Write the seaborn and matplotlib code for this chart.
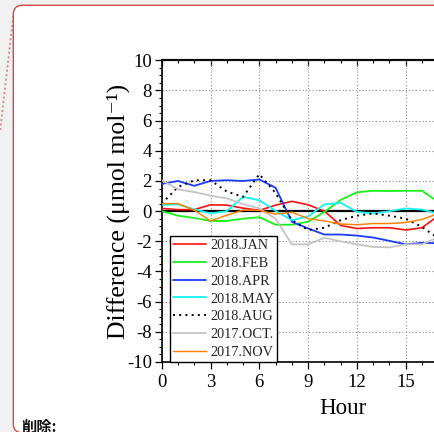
import matplotlib
matplotlib.use("Agg")
import matplotlib.pyplot as plt
import seaborn as sns
import pandas as pd
import numpy as np
from matplotlib.patches import FancyBboxPatch
from matplotlib.ticker import MultipleLocator, NullFormatter
from matplotlib.lines import Line2D

hours = list(range(0, 18))
jan = [0.18, 0.10, 0.10, 0.42, 0.40, 0.20, 0.05, 0.40, 0.65, 0.42, 0.00, -0.95, -1.15, -1.10, -1.10, -1.25, -1.10, -0.30]
feb = [0.00, -0.30, -0.45, -0.65, -0.65, -0.50, -0.40, -0.90, -0.90, -0.70, -0.05, 0.75, 1.25, 1.35, 1.33, 1.35, 1.35, 0.60]
apr = [1.80, 2.00, 1.68, 2.00, 2.05, 2.00, 2.10, 1.55, -0.70, -1.15, -1.55, -1.55, -1.62, -1.75, -1.97, -2.20, -2.10, -2.13]
may = [0.42, 0.45, 0.12, -0.15, 0.00, 0.95, 0.72, 0.02, -0.60, -0.35, 0.45, 0.55, -0.05, -0.15, 0.00, 0.18, 0.10, -0.17]
aug = [0.50, 1.60, 2.05, 2.05, 1.30, 0.95, 2.45, 1.20, -0.60, -1.25, -1.10, -0.60, -0.30, -0.15, -0.30, -0.50, -1.05, -1.80]
oct_ = [2.05, 1.45, 1.27, 1.02, 0.85, 0.47, 0.18, -0.50, -2.20, -2.20, -1.77, -2.00, -2.20, -2.37, -2.40, -2.20, -2.20, -1.73]
nov = [0.50, 0.50, 0.07, -0.65, -0.27, 0.07, 0.05, -0.20, -0.07, -0.50, -0.65, -0.85, -0.90, -0.82, -0.82, -0.75, -0.55, -0.15]

labels = ["2018.JAN", "2018.FEB", "2018.APR", "2018.MAY", "2018.AUG", "2017.OCT.", "2017.NOV"]
series = [jan, feb, apr, may, aug, oct_, nov]
colors = ["#ff1010", "#18f018", "#1a3cff", "#10f4f4", "#000000", "#c4c4c4", "#ff8000"]
widths = [1.2, 1.3, 1.3, 1.3, 1.4, 1.3, 1.05]
styles = ["-", "-", "-", "-", (0, (1, 2.2)), "-", "-"]

yticks = [-10, -8, -6, -4, -2, 0, 2, 4, 6, 8, 10]
xticks = [0, 3, 6, 9, 12, 15]

sns.set_theme(style="white")
plt.rcParams["font.family"] = ["Liberation Serif", "DejaVu Serif"]
plt.rcParams["axes.unicode_minus"] = False

W, H = 434, 432
fig = plt.figure(figsize=(W / 100, H / 100), dpi=100, facecolor="#f1f1f1")

# background card
bg = fig.add_axes([0, 0, 1, 1], zorder=0)
bg.set_xlim(0, W)
bg.set_ylim(H, 0)
bg.axis("off")
card = FancyBboxPatch((13.3, 5.3), 500, 427.5, boxstyle="round,pad=0,rounding_size=9",
                      facecolor="white", edgecolor="#d24b4b", linewidth=1.0, mutation_aspect=1)
bg.add_patch(card)
bg.plot([13.3, 0], [16, 132], color="#d24b4b", lw=1.3, ls=(0, (1, 1.5)), alpha=0.7)
bg.text(21.5, 431.5, "削除:", fontsize=11, fontweight="bold", color="#111111",
        family=["Noto Sans CJK JP", "DejaVu Sans"], va="baseline", ha="left")

x0, x1 = 161.7, 161.7 + 24 * 16.27
y_top, y_bot = 60.3, 362.0
ax = fig.add_axes([x0 / W, 1 - y_bot / H, (x1 - x0) / W, (y_bot - y_top) / H], zorder=2)
ax.set_facecolor("white")

ax.grid(True, which="major", color="#8a8a8a", lw=0.8, ls=(0, (1, 2)))
ax.set_axisbelow(True)
for gx in [18, 21]:
    ax.axvline(gx, color="#8a8a8a", lw=0.8, ls=(0, (1, 2)), zorder=0.5)
ax.axhline(0, color="black", lw=1.6, zorder=1.5)

handles = []
for lab, vals, c, w, s in zip(labels, series, colors, widths, styles):
    df = pd.DataFrame({"Hour": hours, "Diff": vals})
    sns.lineplot(data=df, x="Hour", y="Diff", ax=ax, color=c, lw=w, linestyle=s, legend=False, zorder=3)
    handles.append(Line2D([], [], color=c, lw=w, linestyle=s))

ax.set_xlim(0, 24)
ax.set_ylim(-10, 10)
ax.set_xticks(xticks)
ax.set_yticks(yticks)
ax.xaxis.set_minor_locator(MultipleLocator(1))
ax.yaxis.set_minor_locator(MultipleLocator(0.5))
ax.tick_params(axis="both", which="major", direction="out", length=4.8, width=0.9, color="black",
               labelsize=13.5, labelcolor="black", left=True, bottom=True)
ax.tick_params(axis="both", which="minor", direction="out", length=2.2, width=0.8, color="black",
               left=True, bottom=True)
ax.tick_params(axis="y", which="major", pad=2.2)
ax.tick_params(axis="x", which="major", pad=3.5)
for sp in ax.spines.values():
    sp.set_color("black")
    sp.set_linewidth(1.2)

sec = ax.secondary_xaxis("top")
sec.set_xticks(xticks)
sec.xaxis.set_minor_locator(MultipleLocator(1))
sec.xaxis.set_major_formatter(NullFormatter())
sec.tick_params(which="major", direction="in", length=4.5, width=0.9, color="black")
sec.tick_params(which="minor", direction="in", length=2.2, width=0.8, color="black")
sec.spines["top"].set_linewidth(1.6)

ax.set_xlabel("Hour", fontsize=16.5, color="black")
ax.xaxis.set_label_coords(11.15 / 24, -0.118)
ax.set_ylabel("Difference (μmol mol⁻¹)", fontsize=18.5, color="black", labelpad=-2.5)

leg = ax.legend(handles, labels, loc="lower left", bbox_to_anchor=((170 - x0) / (x1 - x0), 0.0),
                borderaxespad=0, fontsize=10.3, frameon=True, fancybox=False, edgecolor="black",
                framealpha=1, handlelength=2.3, handletextpad=0.3, labelspacing=0.34, borderpad=0.2)
leg.get_frame().set_linewidth(1.0)
leg.set_zorder(5)

fig.savefig("out.png", dpi=100, facecolor=fig.get_facecolor())
